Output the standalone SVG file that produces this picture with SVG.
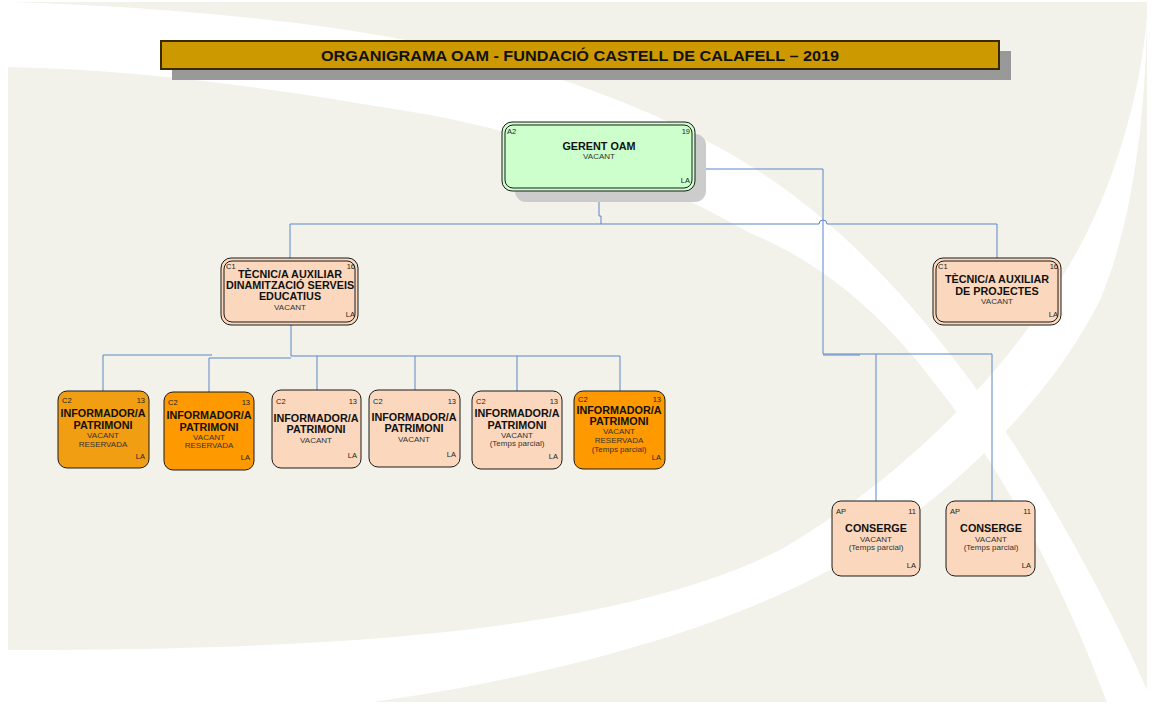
<svg xmlns="http://www.w3.org/2000/svg" width="1152" height="711" viewBox="0 0 1152 711">
<style>
.b{font-family:"Liberation Sans",Arial,sans-serif;font-weight:bold;font-size:10.8px;fill:#111;text-anchor:middle}
.s{font-family:"Liberation Sans",Arial,sans-serif;font-size:8px;fill:#333;text-anchor:middle}
.c{font-family:"Liberation Sans",Arial,sans-serif;font-size:7.5px;fill:#222}
.r{text-anchor:end}
.peach{fill:#fbd8bd;stroke:#1a1a1a;stroke-width:1}
.org{fill:#ff9900;stroke:#1a1a1a;stroke-width:1}
.org1{fill:#f29e12;stroke:#1a1a1a;stroke-width:1}
.inner{fill:none;stroke:#1a1a1a;stroke-width:1}
.conn{fill:none;stroke:#5b86c9;stroke-width:1}
</style>
<rect width="1152" height="711" fill="#ffffff"/>
<g id="background">
<rect x="8" y="2" width="1139" height="700" fill="#f2f2ea"/>
<path d="M8,2 C150,6 300,20 400,39 C550,65 680,120 760,172 C880,250 980,380 1060,520 C1100,590 1130,650 1147,690 L1147,711 L1110,711 C1070,600 1010,480 940,390 C880,310 820,262 750,233 C640,170 520,128 400,110 C280,90 150,70 8,67 Z" fill="#ffffff"/>
<path d="M1147,17 C1138,120 1100,220 1060,280 C1000,380 900,480 780,550 C620,630 350,650 8,650 L8,711 L300,711 C500,690 700,640 830,570 C950,500 1050,400 1100,300 C1130,230 1145,130 1147,17 Z" fill="#ffffff"/>
</g>
<g id="title">
<rect x="172" y="51" width="839" height="29" fill="#999999"/>
<rect x="161" y="41" width="838" height="28" fill="#cc9900" stroke="#3a2a00" stroke-width="2"/>
<text x="580" y="61" font-family="Liberation Sans, Arial, sans-serif" font-weight="bold" font-size="14.5" fill="#111" text-anchor="middle" textLength="518" lengthAdjust="spacingAndGlyphs">ORGANIGRAMA OAM - FUNDACIÓ CASTELL DE CALAFELL – 2019</text>
</g>
<g id="connectors">
<path class="conn" d="M599,191 V216 H601 V224"/>
<path class="conn" d="M290,258 V224 H819 A4,4 0 0 1 827,224 H997 V258"/>
<path class="conn" d="M696,173 V169 H823 V354 H992 V501"/>
<path class="conn" d="M876,354 V501"/>
<path class="conn" d="M823,355 H860"/>
<path class="conn" d="M291,325 V356 H620 V391"/>
<path class="conn" d="M103,391 V355 H212"/>
<path class="conn" d="M209,392 V358 H291"/>
<path class="conn" d="M317,356 V390"/>
<path class="conn" d="M415,356 V390"/>
<path class="conn" d="M517,356 V391"/>
</g>
<g id="gerent">
<rect x="515" y="134" width="191" height="68" rx="11" fill="#cccccc"/>
<rect x="502" y="122" width="193" height="69" rx="10" fill="#ccffcc" stroke="#1a1a1a"/>
<rect x="505" y="125" width="187" height="63" rx="8" class="inner"/>
<text class="c" x="507" y="134">A2</text>
<text class="c r" x="690" y="134">19</text>
<text class="b" x="599" y="150">GERENT OAM</text>
<text class="s" x="599" y="159">VACANT</text>
<text class="c r" x="690" y="183">LA</text>
</g>
<g id="tecnic-dinamitzacio">
<rect class="peach" x="221" y="258" width="137" height="67" rx="10"/>
<rect class="inner" x="224" y="261" width="131" height="61" rx="8"/>
<text class="c" x="226" y="269">C1</text>
<text class="c r" x="355" y="269">16</text>
<text class="b" x="290" y="278">TÈCNIC/A AUXILIAR</text>
<text class="b" x="290" y="289">DINAMITZACIÓ SERVEIS</text>
<text class="b" x="290" y="300">EDUCATIUS</text>
<text class="s" x="290" y="310">VACANT</text>
<text class="c r" x="355" y="317">LA</text>
</g>
<g id="tecnic-projectes">
<rect class="peach" x="933" y="258" width="128" height="67" rx="10"/>
<rect class="inner" x="936" y="261" width="122" height="61" rx="8"/>
<text class="c" x="938" y="269">C1</text>
<text class="c r" x="1058" y="269">16</text>
<text class="b" x="997" y="283">TÈCNIC/A AUXILIAR</text>
<text class="b" x="997" y="295">DE PROJECTES</text>
<text class="s" x="997" y="304">VACANT</text>
<text class="c r" x="1058" y="317">LA</text>
</g>
<g id="informador-1">
<rect class="org1" x="58" y="391" width="91" height="77" rx="9"/>
<text class="c" x="62" y="403">C2</text>
<text class="c r" x="145" y="403">13</text>
<text class="b" x="103" y="417">INFORMADOR/A</text>
<text class="b" x="103" y="429">PATRIMONI</text>
<text class="s" x="103" y="438">VACANT</text>
<text class="s" x="103" y="447">RESERVADA</text>
<text class="c r" x="145" y="459">LA</text>
</g>
<g id="informador-2">
<rect class="org" x="164" y="392" width="90" height="78" rx="9"/>
<text class="c" x="168" y="405">C2</text>
<text class="c r" x="250" y="405">13</text>
<text class="b" x="209" y="419">INFORMADOR/A</text>
<text class="b" x="209" y="431">PATRIMONI</text>
<text class="s" x="209" y="440">VACANT</text>
<text class="s" x="209" y="448">RESERVADA</text>
<text class="c r" x="250" y="460">LA</text>
</g>
<g id="informador-3">
<rect class="peach" x="272" y="390" width="89" height="78" rx="9"/>
<text class="c" x="276" y="404">C2</text>
<text class="c r" x="357" y="404">13</text>
<text class="b" x="316" y="422">INFORMADOR/A</text>
<text class="b" x="316" y="433">PATRIMONI</text>
<text class="s" x="316" y="443">VACANT</text>
<text class="c r" x="357" y="458">LA</text>
</g>
<g id="informador-4">
<rect class="peach" x="369" y="390" width="91" height="77" rx="9"/>
<text class="c" x="373" y="404">C2</text>
<text class="c r" x="456" y="404">13</text>
<text class="b" x="414" y="421">INFORMADOR/A</text>
<text class="b" x="414" y="432">PATRIMONI</text>
<text class="s" x="414" y="442">VACANT</text>
<text class="c r" x="456" y="457">LA</text>
</g>
<g id="informador-5">
<rect class="peach" x="472" y="391" width="90" height="78" rx="9"/>
<text class="c" x="476" y="404">C2</text>
<text class="c r" x="558" y="404">13</text>
<text class="b" x="517" y="417">INFORMADOR/A</text>
<text class="b" x="517" y="429">PATRIMONI</text>
<text class="s" x="517" y="438">VACANT</text>
<text class="s" x="517" y="446">(Temps parcial)</text>
<text class="c r" x="558" y="459">LA</text>
</g>
<g id="informador-6">
<rect class="org" x="574" y="391" width="91" height="78" rx="9"/>
<text class="c" x="578" y="402">C2</text>
<text class="c r" x="661" y="402">13</text>
<text class="b" x="619" y="413.5">INFORMADOR/A</text>
<text class="b" x="619" y="425">PATRIMONI</text>
<text class="s" x="619" y="434">VACANT</text>
<text class="s" x="619" y="442.5">RESERVADA</text>
<text class="s" x="619" y="452">(Temps parcial)</text>
<text class="c r" x="661" y="460">LA</text>
</g>
<g id="conserge-1">
<rect class="peach" x="832" y="501" width="88" height="75" rx="9"/>
<text class="c" x="836" y="514">AP</text>
<text class="c r" x="916" y="514">11</text>
<text class="b" x="876" y="532">CONSERGE</text>
<text class="s" x="876" y="542">VACANT</text>
<text class="s" x="876" y="550">(Temps parcial)</text>
<text class="c r" x="916" y="568">LA</text>
</g>
<g id="conserge-2">
<rect class="peach" x="946" y="501" width="89" height="75" rx="9"/>
<text class="c" x="950" y="514">AP</text>
<text class="c r" x="1031" y="514">11</text>
<text class="b" x="991" y="532">CONSERGE</text>
<text class="s" x="991" y="542">VACANT</text>
<text class="s" x="991" y="550">(Temps parcial)</text>
<text class="c r" x="1031" y="568">LA</text>
</g>
</svg>
